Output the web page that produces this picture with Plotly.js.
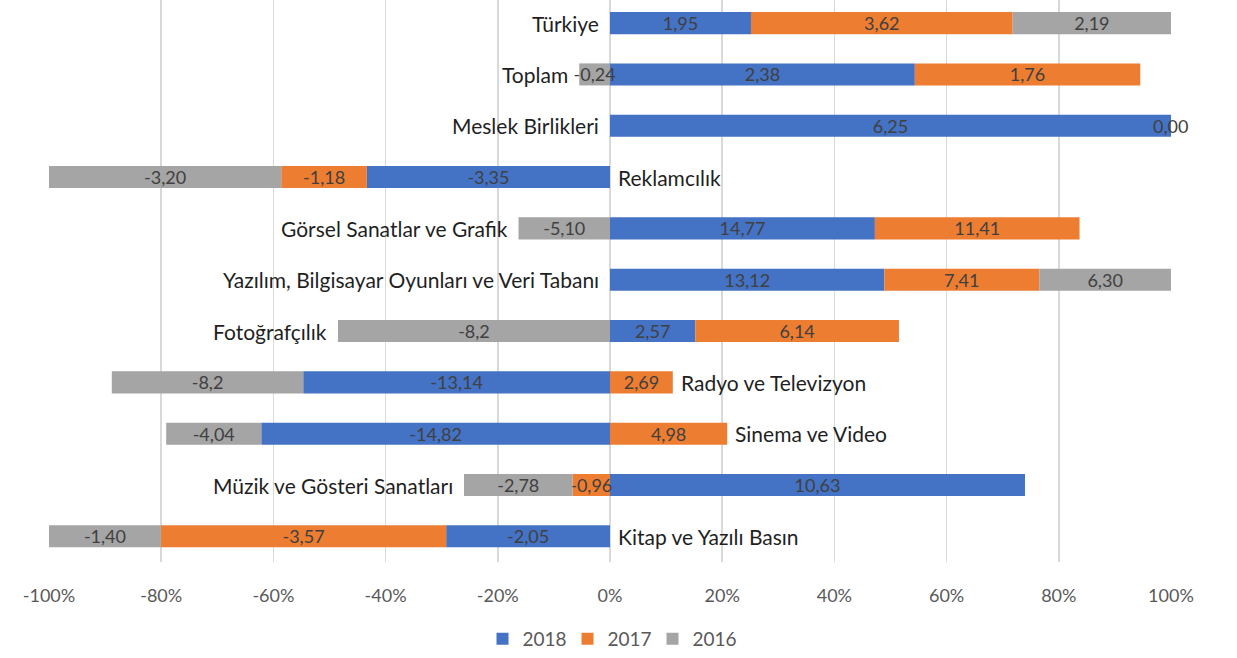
<!DOCTYPE html>
<html>
<head>
<meta charset="utf-8">
<script src="https://cdn.plot.ly/plotly-3.0.1.min.js"></script>
<style>html,body{margin:0;padding:0;background:#fff;}#chart{width:1237px;height:658px;}</style>
</head>
<body>
<div id="chart"></div>
<script>
// Categories from bottom to top
var categories = ["Kitap ve Yazılı Basın","Müzik ve Gösteri Sanatları","Sinema ve Video","Radyo ve Televizyon","Fotoğrafçılık","Yazılım, Bilgisayar Oyunları ve Veri Tabanı","Görsel Sanatlar ve Grafik","Reklamcılık","Meslek Birlikleri","Toplam","Türkiye"];
var values2018 = [-2.05, 10.63, -14.82, -13.14, 2.57, 13.12, 14.77, -3.35, 6.25, 2.38, 1.95];
var values2017 = [-3.57, -0.96, 4.98, 2.69, 6.14, 7.41, 11.41, -1.18, 0.00, 1.76, 3.62];
var values2016 = [-1.40, -2.78, -4.04, -8.2, -8.2, 6.30, -5.10, -3.20, null, -0.24, 2.19];
var labels2018 = ["-2,05","10,63","-14,82","-13,14","2,57","13,12","14,77","-3,35","6,25","2,38","1,95"];
var labels2017 = ["-3,57","-0,96","4,98","2,69","6,14","7,41","11,41","-1,18","0,00","1,76","3,62"];
var labels2016 = ["-1,40","-2,78","-4,04","-8,2","-8,2","6,30","-5,10","-3,20","","-0,24","2,19"];
var seriesNames = ["2018","2017","2016"];
var tickVals = [-100,-80,-60,-40,-20,0,20,40,60,80,100];
var tickText = ["-100%","-80%","-60%","-40%","-20%","0%","20%","40%","60%","80%","100%"];

var colors = ["#4472C4","#ED7D31","#A5A5A5"];
var allVals = [values2018, values2017, values2016];
var allLabels = [labels2018, labels2017, labels2016];

// share of each value in the row's total absolute size (100% stacked)
var totals = categories.map(function(c, i){
  var s = 0; allVals.forEach(function(a){ if (a[i] != null) s += Math.abs(a[i]); }); return s;
});
var pct = allVals.map(function(a){ return a.map(function(v, i){ return v == null ? null : v / totals[i] * 100; }); });

var font = "Lato, 'Open Sans', sans-serif";
var traces = pct.map(function(p, k){
  return {
    type: "bar", orientation: "h", name: seriesNames[k],
    y: categories, x: p,
    marker: {color: colors[k]},
    text: allLabels[k], textposition: "inside", insidetextanchor: "middle",
    constraintext: "none",
    textfont: {family: font, size: 18, color: "#404040"},
    hoverinfo: "none", cliponaxis: false
  };
});

// category labels next to the bar group
var annotations = categories.map(function(c, i){
  var net = 0, pos = 0, neg = 0;
  allVals.forEach(function(a, k){ if (a[i] != null) { net += a[i]; var p = pct[k][i]; if (p > 0) pos += p; else neg += p; } });
  var right = net < 0;
  return {
    x: right ? pos : neg, y: c, xref: "x", yref: "y",
    text: c, showarrow: false,
    xanchor: right ? "left" : "right", xshift: right ? 6 : -9,
    font: {family: font, size: 21, color: "#1f1f1f"}
  };
});
// labels of zero-size segments (a bar of width 0 cannot hold its own text)
categories.forEach(function(c, i){
  var pos = 0;
  allVals.forEach(function(a, k){
    var p = pct[k][i];
    if (p == null) return;
    if (a[i] === 0) {
      annotations.push({x: pos, y: c, xref: "x", yref: "y", text: allLabels[k][i], showarrow: false,
        xanchor: "center", font: {family: font, size: 18, color: "#404040"}});
    }
    if (p > 0) pos += p;
  });
});

var layout = {
  width: 1237, height: 658,
  margin: {l: 49, r: 66, t: 0, b: 94},
  barmode: "relative", bargap: 0.57,
  paper_bgcolor: "#fff", plot_bgcolor: "#fff",
  showlegend: true,
  legend: {orientation: "h", x: 0.5, xanchor: "center", y: -0.103, yanchor: "top",
           font: {family: font, size: 19, color: "#595959"}, traceorder: "normal",
           entrywidth: 40, entrywidthmode: "pixels"},
  xaxis: {range: [-100.001, 100.001], tickvals: tickVals, ticktext: tickText,
          showgrid: true, gridcolor: "#d9d9d9", gridwidth: 1.5,
          zeroline: true, zerolinecolor: "#d9d9d9", zerolinewidth: 1.5,
          ticks: "outside", ticklen: 17, tickcolor: "rgba(0,0,0,0)",
          tickfont: {family: font, size: 18, color: "#595959"}, fixedrange: true},
  yaxis: {type: "category", range: [-0.5, 10.45], showticklabels: false,
          showgrid: false, zeroline: false, fixedrange: true},
  annotations: annotations
};

Plotly.newPlot("chart", traces, layout, {displayModeBar: false, staticPlot: true});
</script>
</body>
</html>
